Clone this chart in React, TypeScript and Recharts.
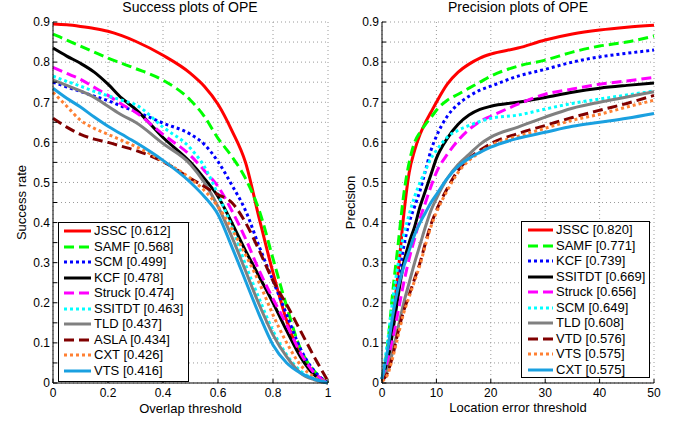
import { LineChart, Line, XAxis, YAxis, CartesianGrid } from "recharts";

// success plot (overlap threshold)
const successX = [0, 0.05, 0.1, 0.15, 0.2, 0.25, 0.3, 0.4, 0.5, 0.55, 0.6, 0.65, 0.7, 0.75, 0.8, 0.85, 0.9, 0.95, 1];
const sJSSC = [0.895, 0.893, 0.889, 0.884, 0.877, 0.866, 0.852, 0.817, 0.772, 0.74, 0.695, 0.63, 0.55, 0.41, 0.275, 0.155, 0.07, 0.025, 0];
const sSAMF = [0.87, 0.855, 0.84, 0.825, 0.81, 0.797, 0.784, 0.755, 0.705, 0.665, 0.61, 0.565, 0.51, 0.43, 0.31, 0.19, 0.085, 0.03, 0];
const sSCM = [0.75, 0.738, 0.727, 0.715, 0.704, 0.69, 0.677, 0.648, 0.62, 0.595, 0.552, 0.494, 0.43, 0.34, 0.255, 0.17, 0.085, 0.03, 0];
const sKCF = [0.835, 0.815, 0.797, 0.775, 0.745, 0.71, 0.683, 0.612, 0.55, 0.51, 0.465, 0.4, 0.33, 0.265, 0.2, 0.13, 0.065, 0.02, 0];
const sStruck = [0.787, 0.772, 0.757, 0.737, 0.717, 0.695, 0.675, 0.62, 0.567, 0.53, 0.49, 0.43, 0.36, 0.28, 0.21, 0.145, 0.075, 0.025, 0];
const sSSITDT = [0.765, 0.752, 0.74, 0.727, 0.716, 0.705, 0.694, 0.638, 0.585, 0.54, 0.47, 0.39, 0.295, 0.21, 0.13, 0.07, 0.03, 0.01, 0];
const sTLD = [0.755, 0.742, 0.728, 0.712, 0.69, 0.668, 0.65, 0.597, 0.545, 0.5, 0.44, 0.365, 0.28, 0.195, 0.12, 0.065, 0.025, 0.008, 0];
const sASLA = [0.66, 0.638, 0.62, 0.608, 0.6, 0.59, 0.58, 0.552, 0.51, 0.49, 0.47, 0.45, 0.4, 0.33, 0.255, 0.195, 0.13, 0.065, 0.005];
const sCXT = [0.725, 0.69, 0.655, 0.635, 0.62, 0.605, 0.59, 0.553, 0.51, 0.48, 0.44, 0.385, 0.32, 0.25, 0.17, 0.1, 0.045, 0.015, 0];
const sVTS = [0.735, 0.71, 0.688, 0.663, 0.64, 0.62, 0.6, 0.555, 0.5, 0.465, 0.42, 0.34, 0.255, 0.17, 0.095, 0.05, 0.025, 0.01, 0];
const successLabels = ["JSSC [0.612]", "SAMF [0.568]", "SCM [0.499]", "KCF [0.478]", "Struck [0.474]", "SSITDT [0.463]", "TLD [0.437]", "ASLA [0.434]", "CXT [0.426]", "VTS [0.416]"];
const successSeries = [sJSSC, sSAMF, sSCM, sKCF, sStruck, sSSITDT, sTLD, sASLA, sCXT, sVTS];

// precision plot (location error threshold)
const precX = [0, 1, 2, 3, 4, 5, 6, 7, 8, 9, 10, 12, 14, 16, 18, 20, 25, 30, 35, 40, 45, 50];
const pJSSC = [0.01, 0.06, 0.16, 0.28, 0.42, 0.525, 0.58, 0.62, 0.65, 0.675, 0.7, 0.745, 0.775, 0.795, 0.81, 0.82, 0.835, 0.855, 0.87, 0.88, 0.887, 0.892];
const pSAMF = [0.01, 0.09, 0.23, 0.35, 0.47, 0.55, 0.6, 0.625, 0.645, 0.662, 0.68, 0.705, 0.72, 0.735, 0.75, 0.765, 0.79, 0.805, 0.825, 0.84, 0.85, 0.865];
const pKCF = [0.01, 0.06, 0.15, 0.25, 0.34, 0.4, 0.44, 0.48, 0.53, 0.58, 0.615, 0.665, 0.695, 0.715, 0.73, 0.74, 0.765, 0.782, 0.8, 0.813, 0.822, 0.83];
const pSSITDT = [0.01, 0.05, 0.13, 0.22, 0.3, 0.35, 0.39, 0.44, 0.48, 0.52, 0.56, 0.61, 0.645, 0.668, 0.682, 0.69, 0.7, 0.712, 0.725, 0.735, 0.742, 0.748];
const pStruck = [0.01, 0.05, 0.11, 0.18, 0.25, 0.31, 0.36, 0.41, 0.45, 0.49, 0.525, 0.57, 0.605, 0.632, 0.652, 0.665, 0.695, 0.72, 0.733, 0.745, 0.753, 0.762];
const pSCM = [0.01, 0.1, 0.21, 0.3, 0.37, 0.42, 0.465, 0.5, 0.53, 0.56, 0.58, 0.613, 0.63, 0.642, 0.652, 0.66, 0.668, 0.683, 0.697, 0.708, 0.718, 0.728];
const pTLD = [0.01, 0.03, 0.08, 0.14, 0.2, 0.25, 0.3, 0.345, 0.39, 0.43, 0.46, 0.51, 0.545, 0.57, 0.595, 0.613, 0.638, 0.663, 0.685, 0.7, 0.713, 0.726];
const pVTD = [0.005, 0.025, 0.07, 0.13, 0.18, 0.22, 0.26, 0.3, 0.35, 0.395, 0.43, 0.485, 0.53, 0.56, 0.58, 0.597, 0.622, 0.642, 0.662, 0.68, 0.697, 0.717];
const pVTS = [0.005, 0.02, 0.065, 0.12, 0.175, 0.215, 0.255, 0.295, 0.345, 0.39, 0.425, 0.48, 0.525, 0.555, 0.575, 0.592, 0.615, 0.635, 0.655, 0.67, 0.688, 0.705];
const pCXT = [0.01, 0.08, 0.17, 0.24, 0.29, 0.33, 0.37, 0.4, 0.425, 0.45, 0.47, 0.51, 0.54, 0.56, 0.575, 0.588, 0.61, 0.625, 0.64, 0.65, 0.66, 0.672];
const precLabels = ["JSSC [0.820]", "SAMF [0.771]", "KCF [0.739]", "SSITDT [0.669]", "Struck [0.656]", "SCM [0.649]", "TLD [0.608]", "VTD [0.576]", "VTS [0.575]", "CXT [0.575]"];
const precSeries = [pJSSC, pSAMF, pKCF, pSSITDT, pStruck, pSCM, pTLD, pVTD, pVTS, pCXT];

const yTicks = [0, 0.05, 0.1, 0.15, 0.2, 0.25, 0.3, 0.35, 0.4, 0.45, 0.5, 0.55, 0.6, 0.65, 0.7, 0.75, 0.8, 0.85, 0.9];
const successXTicks = [0, 0.2, 0.4, 0.6, 0.8, 1];
const precXTicks = [0, 10, 20, 30, 40, 50];

// line styles, same order in both panels
const colors = ["#ff0000", "#00ff00", "#0000ff", "#000000", "#ff00ff", "#00ffff", "#808080", "#800000", "#ff8033", "#1aa0e0"];
const dashes = ["", "10 5", "3 3", "", "10 5", "3 3", "", "10 5", "3 3", ""];

const FONT = "'Liberation Sans', Arial, Helvetica, sans-serif";

const fmt = (v: number) => String(Number(v.toFixed(2)));

const LeftTick = ({ x, y, payload }: any) => {
  const v = payload.value;
  const labelled = Math.abs(v * 10 - Math.round(v * 10)) < 1e-6;
  return (
    <g>
      <line x1={x + 3} x2={x + 7} y1={y} y2={y} stroke="#000" strokeWidth={1} />
      {labelled && (
        <text x={x} y={y + 4.3} textAnchor="end" fontSize={12} fill="#000" style={{ fontFamily: FONT }}>{fmt(v)}</text>
      )}
    </g>
  );
};

const RightTick = ({ x, y }: any) => <line x1={x} x2={x - 4} y1={y} y2={y} stroke="#000" strokeWidth={1} />;

const BottomTick = ({ x, y, payload }: any) => (
  <g>
    <line x1={x} x2={x} y1={y - 5} y2={y - 9} stroke="#000" strokeWidth={1} />
    <text x={x} y={y + 8.8} textAnchor="middle" fontSize={12} fill="#000" style={{ fontFamily: FONT }}>{fmt(payload.value)}</text>
  </g>
);

function LegendBox({ labels, left, top, width, height, sampleLeft, sampleWidth, textLeft }: any) {
  return (
    <div style={{ position: "absolute", left, top, width, height, border: "1px solid #000", background: "#fff", boxSizing: "border-box", fontFamily: FONT, fontSize: 13 }}>
      {labels.map((lab: string, i: number) => (
        <div key={lab} style={{ position: "absolute", left: 0, top: i * 15.55, height: 15.55, width: "100%" }}>
          <svg style={{ position: "absolute", left: sampleLeft, top: 6 }} width={sampleWidth} height={4}>
            <line x1={0} x2={sampleWidth} y1={2} y2={2} stroke={colors[i]} strokeWidth={3} strokeDasharray={dashes[i] || undefined} />
          </svg>
          <span style={{ position: "absolute", left: textLeft, top: -1, lineHeight: "17px", whiteSpace: "nowrap", color: "#000" }}>{lab}</span>
        </div>
      ))}
    </div>
  );
}

function Panel({ left, width, yAxisW, marginRight, xs, series, keys, xDomain, xTicks, title, titleX, xLabel, yLabel, yLabelOffset, xLabelOffset, children }: any) {
  const data = xs.map((x: number, i: number) => {
    const row: any = { x };
    keys.forEach((k: string, j: number) => { row[k] = series[j][i]; });
    return row;
  });
  return (
    <div style={{ position: "absolute", left, top: 0, width, height: 421, fontFamily: FONT }}>
      <div style={{ position: "absolute", left: 0, top: 0, width: titleX * 2, textAlign: "center", fontSize: 14, lineHeight: "14px", color: "#000", whiteSpace: "nowrap" }}>{title}</div>
      <LineChart width={width} height={421} data={data} margin={{ top: 22, right: marginRight, bottom: 0, left: 0 }}>
        <CartesianGrid stroke="#9a9a9a" strokeDasharray="1 3" strokeWidth={1} />
        <XAxis dataKey="x" type="number" domain={xDomain} ticks={xTicks} height={38} tickSize={0} tickMargin={5}
          axisLine={{ stroke: "#000" }} tick={<BottomTick />} interval={0}
          label={{ value: xLabel, position: "insideBottom", offset: xLabelOffset, fill: "#000", fontSize: 13, style: { fontFamily: FONT } }} />
        <XAxis xAxisId="top" dataKey="x" type="number" orientation="top" domain={xDomain} ticks={xTicks} height={0} tick={false}
          axisLine={{ stroke: "#000" }} />
        <YAxis type="number" domain={[0, 0.9]} ticks={yTicks} width={yAxisW} tickSize={0} tickMargin={3} interval={0}
          axisLine={{ stroke: "#000" }} tick={<LeftTick />}
          label={{ value: yLabel, angle: -90, position: "insideLeft", offset: yLabelOffset, textAnchor: "middle", fill: "#000", fontSize: 13, style: { fontFamily: FONT } }} />
        <YAxis yAxisId="right" orientation="right" type="number" domain={[0, 0.9]} ticks={yTicks} width={0} tickSize={0} tickMargin={0} interval={0}
          axisLine={{ stroke: "#000" }} tick={<RightTick />} />
        {keys.map((k: string, j: number) => (
          <Line key={k} type="monotone" dataKey={k} stroke={colors[j]} strokeWidth={3}
            strokeDasharray={dashes[j] || undefined} dot={false} isAnimationActive={false} />
        ))}
      </LineChart>
      {children}
    </div>
  );
}

export default function App() {
  return (
    <div style={{ position: "absolute", left: 0, top: 0, width: 677, height: 421, background: "#fff", overflow: "hidden" }}>
      <Panel left={0} width={340} yAxisW={53} marginRight={12} xs={successX} series={successSeries}
        keys={successLabels} xDomain={[0, 1]} xTicks={successXTicks}
        title="Success plots of OPE" titleX={190} xLabel="Overlap threshold" yLabel="Success rate" yLabelOffset={21} xLabelOffset={8}>
        <LegendBox labels={successLabels} left={58} top={222} width={131} height={160} sampleLeft={5} sampleWidth={27} textLeft={35} />
      </Panel>
      <Panel left={340} width={337} yAxisW={42} marginRight={23} xs={precX} series={precSeries}
        keys={precLabels} xDomain={[0, 50]} xTicks={precXTicks}
        title="Precision plots of OPE" titleX={178} xLabel="Location error threshold" yLabel="Precision" yLabelOffset={10} xLabelOffset={9}>
        <LegendBox labels={precLabels} left={181} top={221} width={129} height={157} sampleLeft={6} sampleWidth={25} textLeft={34} />
      </Panel>
    </div>
  );
}
